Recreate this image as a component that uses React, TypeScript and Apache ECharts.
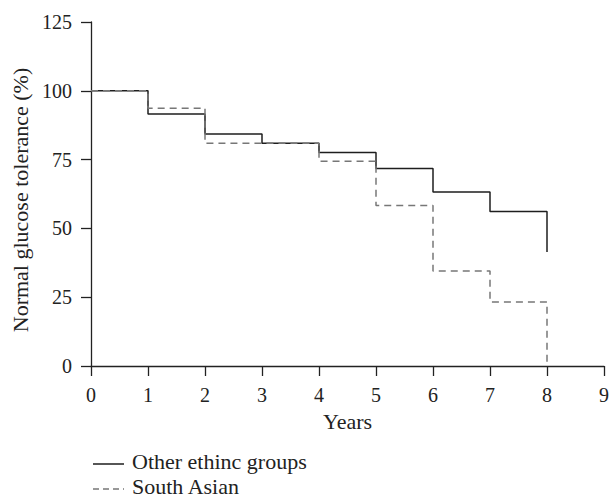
import React, { useEffect, useRef } from "react";
import * as echarts from "echarts";

const years = [0, 1, 2, 3, 4, 5, 6, 7, 8];
const otherEthnic = [100, 91.6, 84.3, 80.9, 77.6, 71.8, 63.2, 56.1, 41.4];
const southAsian = [100, 93.7, 80.9, 80.9, 74.4, 58.3, 34.5, 23.3, 0];
const seriesNames = ["Other ethinc groups", "South Asian"];
const seriesColors = ["#1e1e1e", "#777777"];
const yTicks = [0, 25, 50, 75, 100, 125];

const FONT = "Liberation Serif";

export default function App() {
  const ref = useRef<HTMLDivElement>(null);
  useEffect(() => {
    if (!ref.current) return;
    const chart = echarts.init(ref.current, undefined, { renderer: "svg" });
    const tickText = { fontFamily: FONT, fontSize: 20, color: "#222" };
    const nameText = { fontFamily: FONT, fontSize: 22, color: "#222" };
    const legendLineY = [464, 489];
    const legendGraphic: any[] = [];
    seriesNames.forEach((name, i) => {
      legendGraphic.push({
        type: "line",
        shape: { x1: 93, y1: legendLineY[i], x2: 124, y2: legendLineY[i] },
        style: {
          stroke: seriesColors[i],
          lineWidth: 1.5,
          lineDash: i === 1 ? [6, 4] : null,
        },
      });
      legendGraphic.push({
        type: "text",
        x: 132,
        y: legendLineY[i] - 3,
        style: {
          text: name,
          fontFamily: FONT,
          fontSize: 22,
          fill: "#222",
          verticalAlign: "middle",
          align: "left",
        },
      });
    });
    chart.setOption({
      animation: false,
      backgroundColor: "#fff",
      grid: { left: 91, right: 5, top: 22, bottom: 133, containLabel: false },
      xAxis: {
        type: "value",
        min: 0,
        max: 9,
        interval: 1,
        name: "Years",
        nameLocation: "middle",
        nameGap: 44,
        nameTextStyle: nameText,
        axisLine: { lineStyle: { color: "#222", width: 1.3 } },
        axisTick: { show: true, length: 10, lineStyle: { color: "#222", width: 1.3 } },
        axisLabel: { ...tickText, margin: 19 },
        splitLine: { show: false },
      },
      yAxis: {
        type: "value",
        min: yTicks[0],
        max: yTicks[yTicks.length - 1],
        interval: 25,
        name: "Normal glucose tolerance (%)",
        nameLocation: "middle",
        nameGap: 58,
        nameTextStyle: { ...nameText, padding: [0, 12, 0, 0] },
        axisLine: { show: true, lineStyle: { color: "#222", width: 1.3 } },
        axisTick: { show: true, length: 10, lineStyle: { color: "#222", width: 1.3 } },
        axisLabel: { ...tickText, margin: 19 },
        splitLine: { show: false },
      },
      graphic: legendGraphic,
      series: [
        {
          name: seriesNames[0],
          type: "line",
          step: "end",
          symbol: "none",
          data: years.map((x, i) => [x, otherEthnic[i]]),
          lineStyle: { color: seriesColors[0], width: 1.5, type: "solid" },
          itemStyle: { color: seriesColors[0] },
        },
        {
          name: seriesNames[1],
          type: "line",
          step: "end",
          symbol: "none",
          data: years.map((x, i) => [x, southAsian[i]]),
          lineStyle: { color: seriesColors[1], width: 1.5, type: [7, 5] },
          itemStyle: { color: seriesColors[1] },
        },
      ],
    });
    return () => chart.dispose();
  }, []);
  return (
    <div
      ref={ref}
      style={{ position: "fixed", left: 0, top: 0, width: 612, height: 499, background: "#fff" }}
    />
  );
}
